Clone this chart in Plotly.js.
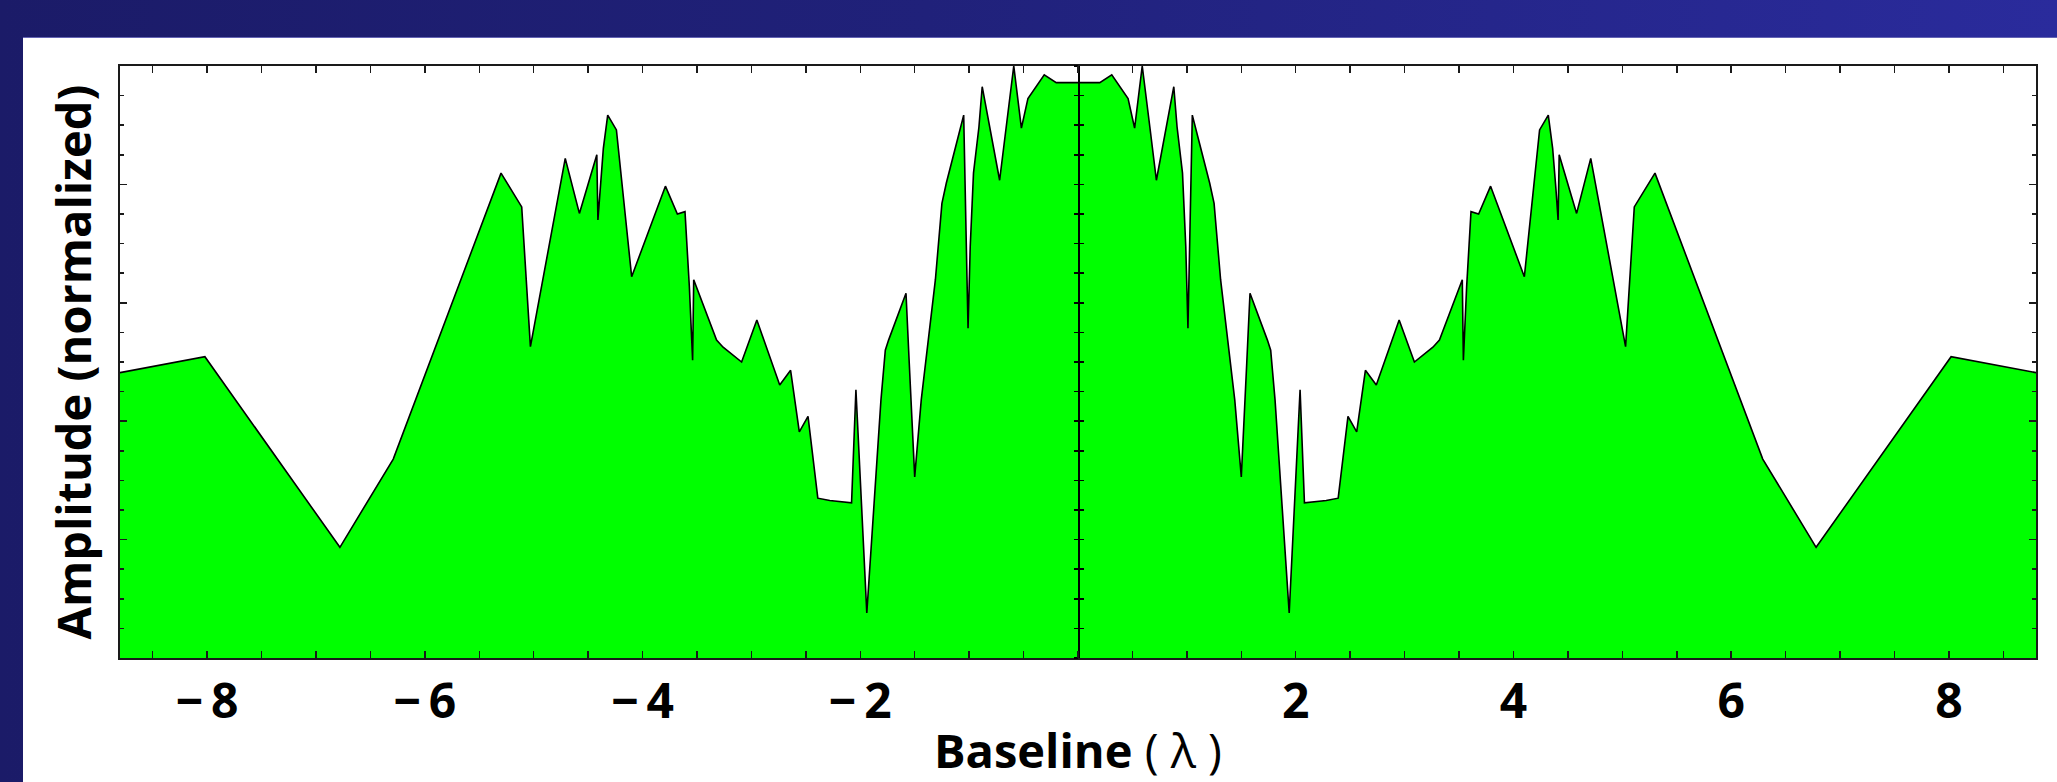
<!DOCTYPE html>
<html>
<head>
<meta charset="utf-8">
<script src="https://cdn.plot.ly/plotly-3.0.1.min.js"></script>
<style>
  html, body {
    margin: 0; padding: 0; width: 2057px; height: 782px; overflow: hidden;
    background: linear-gradient(to right, #1b1b68 0%, #20217a 45%, #2a2b9c 100%);
  }
  #rule { position: absolute; left: 23px; top: 37px; width: 2034px; height: 1px; background: #6464b4; }
  #panel { position: absolute; left: 23px; top: 38px; width: 2034px; height: 744px; background: #ffffff; }
  #chart { width: 2034px; height: 744px; }
</style>
</head>
<body>
<div id="rule"></div>
<div id="panel"><div id="chart"></div></div>
<script>
// Baseline in wavelengths and normalized amplitude of the sampled profile
const baseline = [
  -8.80, -8.02, -6.78, -6.29, -5.30, -5.11, -5.03, -4.71, -4.58, -4.42,
  -4.41, -4.39, -4.36, -4.32, -4.24, -4.10, -3.79, -3.68, -3.61, -3.57,
  -3.54, -3.53, -3.32, -3.26, -3.09, -2.95, -2.74, -2.64, -2.56, -2.48,
  -2.39, -2.28, -2.08, -2.04, -1.94, -1.81, -1.77, -1.74, -1.58, -1.55,
  -1.50, -1.44, -1.31, -1.25, -1.21, -1.10, -1.05, -1.02, -1.01, -0.99,
  -0.96, -0.91, -0.88, -0.72, -0.66, -0.59, -0.52, -0.46, -0.31, -0.20,
   0.00,
   0.20,  0.31,  0.46,  0.52,  0.59,  0.66,  0.72,  0.88,  0.91,  0.96,
   0.99,  1.01,  1.02,  1.05,  1.10,  1.21,  1.25,  1.31,  1.44,  1.50,
   1.55,  1.58,  1.74,  1.77,  1.81,  1.94,  2.04,  2.08,  2.28,  2.39,
   2.48,  2.56,  2.64,  2.74,  2.95,  3.09,  3.26,  3.32,  3.53,  3.54,
   3.57,  3.61,  3.68,  3.79,  4.10,  4.24,  4.32,  4.36,  4.39,  4.41,
   4.42,  4.58,  4.71,  5.03,  5.11,  5.30,  6.29,  6.78,  8.02,  8.80
];
const amplitude = [
  0.482, 0.509, 0.187, 0.336, 0.819, 0.762, 0.526, 0.844, 0.751, 0.850,
  0.740, 0.793, 0.861, 0.917, 0.892, 0.644, 0.797, 0.750, 0.754, 0.627,
  0.503, 0.639, 0.537, 0.525, 0.500, 0.571, 0.461, 0.486, 0.382, 0.408,
  0.270, 0.266, 0.262, 0.453, 0.076, 0.436, 0.520, 0.537, 0.616, 0.498,
  0.306, 0.436, 0.639, 0.768, 0.802, 0.881, 0.917, 0.644, 0.557, 0.695,
  0.819, 0.897, 0.965, 0.807, 0.897, 1.000, 0.895, 0.945, 0.985, 0.972,
  0.972,
  0.972, 0.985, 0.945, 0.895, 1.000, 0.897, 0.807, 0.965, 0.897, 0.819,
  0.695, 0.557, 0.644, 0.917, 0.881, 0.802, 0.768, 0.639, 0.436, 0.306,
  0.498, 0.616, 0.537, 0.520, 0.436, 0.076, 0.453, 0.262, 0.266, 0.270,
  0.408, 0.382, 0.486, 0.461, 0.571, 0.500, 0.525, 0.537, 0.639, 0.503,
  0.627, 0.754, 0.750, 0.797, 0.644, 0.892, 0.917, 0.861, 0.793, 0.740,
  0.850, 0.751, 0.844, 0.526, 0.762, 0.819, 0.336, 0.187, 0.509, 0.482
];

// Labelled baseline ticks
const tickValues = [-8, -6, -4, -2, 2, 4, 6, 8];
const tickLabels = ['\u2212\u20098', '\u2212\u20096', '\u2212\u20094', '\u2212\u20092', '2', '4', '6', '8'];

const FONT = 'Open Sans, Liberation Sans, sans-serif';
const INK = '#1a1a1a';

const profile = {
  type: 'scatter',
  mode: 'lines',
  x: baseline,
  y: amplitude,
  fill: 'tozeroy',
  fillcolor: '#00ff00',
  line: { color: '#000000', width: 1.6 },
  hoverinfo: 'skip'
};

// Empty traces that register the two halves of the axis through the origin
const axisHolder = (yref) => ({
  type: 'scatter', mode: 'lines', x: [], y: [], xaxis: 'x', yaxis: yref,
  hoverinfo: 'skip', showlegend: false
});

// Vertical axis through the origin, ticks on both sides
const centreAxis = (side) => ({
  overlaying: 'y',
  anchor: 'free',
  position: 0.5,
  range: [0, 1],
  showline: true,
  linecolor: '#000',
  linewidth: 1.6,
  ticks: side,
  ticklen: 4,
  tickwidth: 1.5,
  tickcolor: '#000',
  tickmode: 'linear',
  tick0: 0,
  dtick: 0.05,
  showticklabels: false,
  showgrid: false,
  zeroline: false,
  fixedrange: true
});

const layout = {
  width: 2034,
  height: 744,
  margin: { l: 97, r: 21, t: 28, b: 124 },
  paper_bgcolor: '#ffffff',
  plot_bgcolor: '#ffffff',
  showlegend: false,
  font: { family: FONT, color: '#000' },
  xaxis: {
    range: [-8.8, 8.8],
    showgrid: false,
    zeroline: false,
    showline: true,
    linecolor: INK,
    linewidth: 2,
    mirror: 'allticks',
    ticks: 'inside',
    ticklen: 7,
    tickwidth: 1.5,
    tickcolor: INK,
    tickmode: 'array',
    tickvals: tickValues,
    ticktext: tickLabels,
    tickfont: { family: FONT, size: 48, weight: 700, color: '#000' },
    minor: { tickmode: 'linear', tick0: 0, dtick: 0.5, ticks: 'inside', ticklen: 4, tickwidth: 1.5, tickcolor: INK },
    title: {
      text: '<b>Baseline</b> ( \u03bb )',
      font: { family: FONT, size: 47, weight: 400, color: '#000' },
      standoff: 7
    },
    fixedrange: true
  },
  yaxis: {
    range: [0, 1],
    showgrid: false,
    zeroline: false,
    showline: true,
    linecolor: INK,
    linewidth: 2,
    mirror: 'allticks',
    ticks: 'inside',
    ticklen: 7,
    tickwidth: 1.5,
    tickcolor: INK,
    tickmode: 'linear',
    tick0: 0,
    dtick: 0.2,
    showticklabels: false,
    minor: { tickmode: 'linear', tick0: 0, dtick: 0.05, ticks: 'inside', ticklen: 4, tickwidth: 1.5, tickcolor: INK },
    title: {
      text: 'Amplitude (normalized)',
      font: { family: FONT, size: 47, weight: 700, color: '#000' },
      standoff: 12
    },
    fixedrange: true
  },
  yaxis2: centreAxis('outside'),
  yaxis3: centreAxis('inside')
};

Plotly.newPlot('chart', [profile, axisHolder('y2'), axisHolder('y3')], layout,
  { displayModeBar: false, staticPlot: true });
</script>
</body>
</html>
